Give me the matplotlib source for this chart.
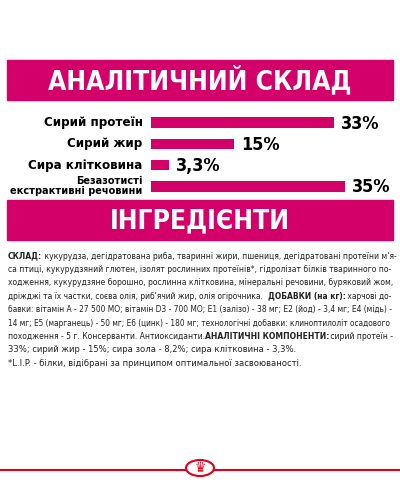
import matplotlib
matplotlib.use("Agg")
import matplotlib.pyplot as plt
from matplotlib.patches import Rectangle, Ellipse

plt.rcParams["font.family"] = ["DejaVu Sans Condensed", "DejaVu Sans"]
plt.rcParams["font.stretch"] = "condensed"

MAG = "#d4006a"
labels = ["Сирий протеїн", "Сирий жир", "Сира клітковина", "Безазотисті\nекстрактивні речовини"]
values = [33, 15, 3.3, 35]
value_text = ["33%", "15%", "3,3%", "35%"]

para = [
    [("СКЛАД:", True), (" кукурудза, дегідратована риба, тваринні жири, пшениця, дегідратовані протеїни м'я-", False)],
    [("са птиці, кукурудзяний глютен, ізолят рослинних протеїнів*, гідролізат білків тваринного по-", False)],
    [("ходження, кукурудзяне борошно, рослинна клітковина, мінеральні речовини, буряковий жом,", False)],
    [("дріжджі та їх частки, соєва олія, риб'ячий жир, олія огірочника.  ", False), ("ДОБАВКИ (на кг):", True), (" харчові до-", False)],
    [("бавки: вітамін А - 27 500 МО; вітамін D3 - 700 МО; Е1 (залізо) - 38 мг; Е2 (йод) - 3,4 мг; Е4 (мідь) -", False)],
    [("14 мг; Е5 (марганець) - 50 мг; Е6 (цинк) - 180 мг; технологічні добавки: клиноптилоліт осадового", False)],
    [("походження - 5 г. Консерванти. Антиоксиданти. ", False), ("АНАЛІТИЧНІ КОМПОНЕНТИ:", True), (" сирий протеїн -", False)],
    [("33%; сирий жир - 15%; сира зола - 8,2%; сира клітковина - 3,3%.", False)],
    [("*L.I.P. - білки, відібрані за принципом оптимальної засвоюваності.", False)],
]
# lines that span the full width in the reference (last two do not)
full_width = [True] * 7 + [False, False]

fig = plt.figure(figsize=(4, 5), dpi=100)
W, H = 400, 500

def fx(p): return p / W
def fy(p): return 1 - p / H

# banners
for y0, y1, title in [(60, 100, "АНАЛІТИЧНИЙ СКЛАД"), (200, 240, "ІНГРЕДІЄНТИ")]:
    fig.patches.append(Rectangle((fx(7), fy(y1)), fx(386), (y1 - y0) / H,
                                 transform=fig.transFigure, color=MAG))
    fig.text(0.5, fy((y0 + y1) / 2 + 1), title, ha="center", va="center",
             color="white", fontsize=19, fontweight="bold")

# bar chart
ax = fig.add_axes([fx(151), fy(198), fx(249), 88 / H])
ys = list(range(len(values)))
ax.barh(ys, values, height=0.5, color=MAG)
ax.set_xlim(0, 44.9)
ax.set_ylim(3.55, -0.6)
for y, v, t in zip(ys, values, value_text):
    ax.text(v + 1.2, y + 0.05, t, va="center", ha="left", fontsize=13, fontweight="bold")
for y, lab in zip(ys, labels):
    ax.text(-1.5, y, lab, va="center", ha="right", fontsize=9.5 if y < 3 else 7.8,
            fontweight="bold", linespacing=1.0)
ax.axis("off")

# paragraph, each line fitted to the text width
fig.canvas.draw()
r = fig.canvas.get_renderer()
base = 7.0
y = 256
for line, full in zip(para, full_width):
    widths = []
    for txt, b in line:
        t = fig.text(0, 0, txt, fontsize=base, fontweight="bold" if b else "normal")
        widths.append(t.get_window_extent(renderer=r).width)
        t.remove()
    total = sum(widths)
    target = 384 if full else total * 384 / 400
    fs = base * min(target / total, 1.0 if not full else 9)
    fs = base * target / total if full else fs
    x = fx(8)
    for (txt, b), w in zip(line, widths):
        fig.text(x, fy(y), txt, ha="left", va="center", fontsize=fs,
                 fontweight="bold" if b else "normal", color="#222222")
        x += w * fs / base / W
    y += 13.4

# logo strip
fig.lines.append(plt.Line2D([0, fx(185)], [fy(470)] * 2, transform=fig.transFigure, color="#e2001a", lw=1.5))
fig.lines.append(plt.Line2D([fx(215), 1], [fy(470)] * 2, transform=fig.transFigure, color="#e2001a", lw=1.5))
fig.patches.append(Ellipse((0.5, fy(468)), fx(28), 16 / H, transform=fig.transFigure,
                           facecolor="white", edgecolor="#e2001a", lw=1.5))
fig.text(0.5, fy(468), "♛", ha="center", va="center", color="#e2001a", fontsize=10,
         family="DejaVu Sans")

fig.savefig("out.png", dpi=100)
